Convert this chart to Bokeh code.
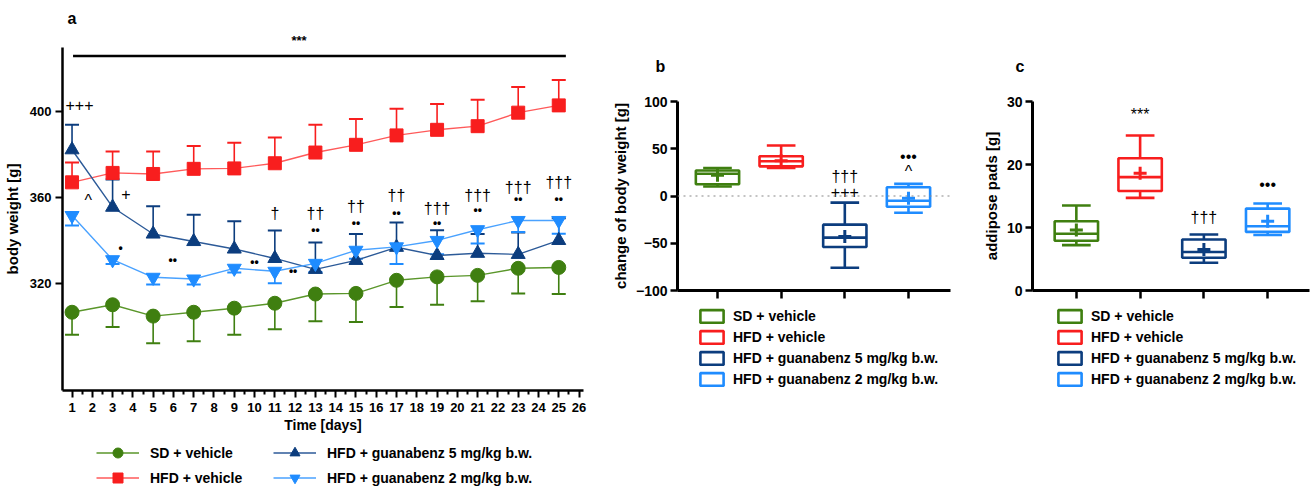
from bokeh.plotting import figure
from bokeh.models import (ColumnDataSource, Legend, LegendItem, Range1d, FixedTicker,
                          Whisker, TeeHead, Span, Title)
from bokeh.layouts import column
from bokeh.embed import file_html
from bokeh.resources import INLINE
from bokeh.core.properties import value

FONT = "Liberation Sans"

# ---------------- panel a data ----------------
days = [1, 3, 5, 7, 9, 11, 13, 15, 17, 19, 21, 23, 25]
sd_mean = [306.5, 310, 304.7, 306.5, 308.4, 310.7, 315, 315.3, 321.4, 323, 323.7, 327, 327.4]
sd_err = [10.5, 10.4, 12.7, 13.5, 12.4, 12.1, 12.7, 13.3, 12.4, 13, 12.1, 11.7, 12.4]
hfd_mean = [367.1, 371.5, 371, 373.4, 373.6, 376, 381, 384.6, 389, 391.6, 393.3, 399.6, 403]
hfd_err = [9.3, 10, 10.5, 10.6, 12, 12, 13, 12, 12.4, 12, 12.3, 12, 11.8]
g5_mean = [382.3, 355.5, 343, 339.5, 336, 331.6, 326.5, 330.7, 336.8, 333, 334, 333.5, 340]
g5_err = [11.7, 12.9, 13, 12.5, 13, 13, 12.5, 12.3, 11.6, 11.7, 9, 10.2, 10.4]
g2_mean = [351.6, 331, 322.8, 322, 327, 325.6, 329.3, 335.4, 337, 340, 345, 349.3, 349.3]
g2_err = [4.6, 2, 3.3, 2.5, 2, 5.6, 4, 4, 8, 6.5, 6.4, 5.4, 6.2]

ann_a_sym_x = [1.37, 1.8, 3.66, 11, 13, 15, 17, 19, 21, 23, 25]
ann_a_sym_y = [403.1, 358.6, 361.8, 352.6, 352.6, 356, 361, 355, 361, 364.7, 367]
ann_a_sym_t = ["+++", "^", "+", "\u2020", "\u2020\u2020", "\u2020\u2020", "\u2020\u2020",
               "\u2020\u2020\u2020", "\u2020\u2020\u2020", "\u2020\u2020\u2020", "\u2020\u2020\u2020"]
ann_a_dot_x = [3.4, 5.97, 10.0, 11.9, 13, 15, 17, 19, 21, 23, 25]
ann_a_dot_y = [336.3, 331, 330, 325.6, 345, 348, 353, 348, 354, 359.5, 359.5]
ann_a_dot_t = ["\u2022"] + ["\u2022\u2022"] * 10
sig_bar_x = [1.05, 25.35]
sig_bar_y = 426

x_ticks_a = list(range(1, 27))
y_ticks_a = [320, 360, 400]

groups = ["SD + vehicle", "HFD + vehicle",
          "HFD + guanabenz 5 mg/kg b.w.", "HFD + guanabenz 2 mg/kg b.w."]
cat_x = [1, 2, 3, 4]

# ---------------- panel b data (change of body weight) ----------------
b_min = [10, 29.6, -76, -17.8]
b_q1 = [12.5, 31.4, -54, -11.4]
b_med = [23.5, 36.7, -44, -5]
b_q3 = [27, 42, -30.3, 9.3]
b_max = [29.6, 53.5, -7, 12.8]
b_mean = [22, 37.4, -42.8, -2.5]
b_ticks = [-100, -50, 0, 50, 100]
ann_b_x = [3, 3, 4, 4]
ann_b_y = [20.4, 4.5, 42, 25.7]
ann_b_t = ["\u2020\u2020\u2020", "+++", "\u2022\u2022\u2022", "^"]

# ---------------- panel c data (adipose pads) ----------------
c_min = [7.2, 14.7, 4.4, 8.8]
c_q1 = [7.9, 15.8, 5.2, 9.3]
c_med = [9, 18, 6.1, 10.2]
c_q3 = [11, 21, 8.1, 13]
c_max = [13.5, 24.6, 8.9, 13.8]
c_mean = [9.6, 18.6, 6.5, 11]
c_ticks = [0, 10, 20, 30]
ann_c_x = [2, 3, 4]
ann_c_y = [27.9, 11.6, 16.8]
ann_c_t = ["***", "\u2020\u2020\u2020", "\u2022\u2022\u2022"]

# ---------------- styles ----------------
mark_col = ["#3f7f10", "#f81e1e", "#0c3d7e", "#1f8cff"]
line_col = ["#5a962a", "#ff5a5a", "#2c5a98", "#4aa2ff"]
markers = ["circle", "square", "triangle", "inverted_triangle"]
OFF = -10  # a point outside the legend strips' ranges, so their sample glyphs stay hidden


def style_axes(p, lw, tick_size):
    p.grid.visible = False
    p.outline_line_color = None
    p.background_fill_color = "white"
    for ax in (p.xaxis, p.yaxis):
        ax.axis_line_width = lw
        ax.axis_line_color = "black"
        ax.major_tick_line_width = 2
        ax.major_tick_line_color = "black"
        ax.minor_tick_line_width = 2
        ax.minor_tick_line_color = "black"
        ax.major_tick_in = 0
        ax.minor_tick_in = 0
        ax.major_label_text_font = FONT
        ax.major_label_text_font_style = "bold"
        ax.major_label_text_font_size = tick_size
        ax.major_label_text_color = "black"
        ax.axis_label_text_font = FONT
        ax.axis_label_text_font_style = "bold"
        ax.axis_label_text_font_size = "15px"
        ax.axis_label_text_color = "black"


def make_title(text, size, offset, standoff, valign="bottom"):
    return Title(text=text, align="left", offset=offset, standoff=standoff, vertical_align=valign,
                 text_font=FONT, text_font_size=size, text_font_style="bold", text_color="black")


def make_legend(items, loc, gw, gh, standoff, spacing, ncols=1, label_width=20):
    return Legend(items=items, location=loc, orientation="horizontal", ncols=ncols,
                  glyph_width=gw, glyph_height=gh, label_height=gh, label_width=label_width,
                  label_standoff=standoff, spacing=spacing, padding=0, margin=0,
                  border_line_color=None, background_fill_alpha=0,
                  label_text_font=FONT, label_text_font_style="bold", label_text_font_size="14px",
                  label_text_color="black")


def legend_fig(width, height, left_b, right_b):
    f = figure(width=width, height=height, x_range=Range1d(0, 1), y_range=Range1d(0, 1),
               x_axis_type=None, y_axis_type=None, title=None, output_backend="svg",
               toolbar_location=None, min_border_left=left_b, min_border_right=right_b,
               min_border_top=0, min_border_bottom=0)
    f.outline_line_color = None
    return f


# ================= panel a =================
pa = figure(width=600, height=440, x_range=Range1d(0.53, 26.22), y_range=Range1d(270, 430),
            title=None, output_backend="svg", toolbar_location=None,
            min_border_left=61, min_border_right=17, min_border_top=47, min_border_bottom=50)
style_axes(pa, 2.5, "13px")
pa.xaxis.ticker = FixedTicker(ticks=x_ticks_a, minor_ticks=[t + 0.5 for t in range(0, 26)])
pa.yaxis.ticker = FixedTicker(ticks=y_ticks_a, minor_ticks=[])
pa.xaxis.major_tick_out = 7
pa.xaxis.minor_tick_out = 4
pa.yaxis.major_tick_out = 7
pa.xaxis.major_label_standoff = 5
pa.yaxis.major_label_standoff = 4
pa.xaxis.axis_label = "Time [days]"
pa.yaxis.axis_label = "body weight [g]"
pa.xaxis.axis_label_standoff = 2
pa.yaxis.axis_label_standoff = 6
pa.xaxis.axis_label_text_font_size = "14px"

series = [(sd_mean, sd_err, 14, "lower"),
          (hfd_mean, hfd_err, 13, "upper"),
          (g5_mean, g5_err, 14, "upper"),
          (g2_mean, g2_err, 14, "lower")]
for i, (m, e, sz, side) in enumerate(series):
    if side == "upper":
        lo = m
        hi = [a + b for a, b in zip(m, e)]
    else:
        lo = [a - b for a, b in zip(m, e)]
        hi = m
    src = ColumnDataSource(dict(base=days, lower=lo, upper=hi))
    head = TeeHead(size=14, line_color=mark_col[i], line_width=2)
    w = Whisker(source=src, base="base", lower="lower", upper="upper", dimension="height",
                line_color=mark_col[i], line_width=1.6,
                upper_head=head if side == "upper" else None,
                lower_head=head if side == "lower" else None)
    pa.add_layout(w)
    pa.line(days, m, line_color=line_col[i], line_width=1.4)
    pa.scatter(days, m, marker=markers[i], size=sz, fill_color=mark_col[i], line_color=mark_col[i])

pa.segment(x0=[sig_bar_x[0]], y0=[sig_bar_y], x1=[sig_bar_x[1]], y1=[sig_bar_y],
           line_color="black", line_width=2.5)
pa.text(x=ann_a_sym_x, y=ann_a_sym_y, text=ann_a_sym_t, text_font=value(FONT),
        text_font_size="16px", text_align="center", text_baseline="middle", text_color="black")
pa.text(x=ann_a_dot_x, y=ann_a_dot_y, text=ann_a_dot_t, text_font=value(FONT), text_font_style="bold",
        text_font_size="12px", text_align="center", text_baseline="middle", text_color="black")
pa.add_layout(make_title("***", "13px", 229, 0), "above")
pa.add_layout(make_title("a", "16px", 5, 7), "above")

# legend of panel a, in its own strip below the plot
la = legend_fig(600, 51, 61, 17)
a_items = []
for i in range(4):
    lr = la.line(x=[OFF, OFF + 1], y=[OFF, OFF], line_color=line_col[i], line_width=1.4)
    sr = la.scatter(x=[OFF], y=[OFF], marker=markers[i], size=12, fill_color=mark_col[i],
                    line_color=mark_col[i])
    a_items.append(LegendItem(label=groups[i], renderers=[lr, sr]))
# row-major 2x2 grid: first column SD / HFD, second column the guanabenz groups
la.add_layout(make_legend([a_items[0], a_items[2], a_items[1], a_items[3]], (34, 1), 43, 25, 11, 0,
                          ncols=2, label_width=123))


# ================= panels b, c =================
def box_panel(width, left_b, right_b, xr, yr, yticks, ylabel, stats, ann, letter, letter_off,
              letter_standoff, leg_x):
    mn, q1, md, q3, mx, mean = stats
    p = figure(width=width, height=304, x_range=Range1d(*xr), y_range=Range1d(*yr),
               title=None, output_backend="svg", toolbar_location=None,
               min_border_left=left_b, min_border_right=right_b, min_border_top=101,
               min_border_bottom=14)
    style_axes(p, 3, "14px")
    p.xaxis.ticker = FixedTicker(ticks=cat_x, minor_ticks=[])
    p.xaxis.major_label_text_color = None
    p.xaxis.major_label_text_font_size = "1px"
    p.xaxis.major_label_standoff = 0
    p.xaxis.major_tick_out = 8
    p.xaxis.major_tick_line_width = 2.5
    p.yaxis.ticker = FixedTicker(ticks=yticks, minor_ticks=[])
    p.yaxis.major_tick_out = 7
    p.yaxis.major_tick_line_width = 2.5
    p.yaxis.major_label_standoff = 3
    p.yaxis.axis_label = ylabel
    p.yaxis.axis_label_standoff = 4
    bw, cw, lw = 0.68, 0.45, 2.6
    for i in range(4):
        x = cat_x[i]
        c = mark_col[i]
        p.segment(x0=[x, x], y0=[q3[i], q1[i]], x1=[x, x], y1=[mx[i], mn[i]], line_color=c, line_width=lw)
        p.segment(x0=[x - cw / 2, x - cw / 2], y0=[mx[i], mn[i]], x1=[x + cw / 2, x + cw / 2],
                  y1=[mx[i], mn[i]], line_color=c, line_width=lw)
        p.quad(left=[x - bw / 2], right=[x + bw / 2], bottom=[q1[i]], top=[q3[i]],
               fill_color="white", line_color=c, line_width=lw)
        p.segment(x0=[x - bw / 2], y0=[md[i]], x1=[x + bw / 2], y1=[md[i]], line_color=c, line_width=lw)
        p.scatter([x], [mean[i]], marker="cross", size=13, line_color=c, line_width=3)
    ax, ay, at = ann
    p.text(x=ax, y=ay, text=at, text_font=value(FONT), text_font_size="16px",
           text_align="center", text_baseline="middle", text_color="black")
    p.add_layout(make_title(letter, "16px", letter_off, letter_standoff), "above")

    lf = legend_fig(width, 187, left_b, right_b)
    items = []
    for i in range(4):
        r = lf.quad(left=[OFF], right=[OFF + 1], bottom=[OFF], top=[OFF + 1], fill_color="white",
                    line_color=mark_col[i], line_width=2.6)
        items.append(LegendItem(label=groups[i], renderers=[r]))
    lf.add_layout(make_legend(items, (leg_x, 104), 29, 16, 7, 5, ncols=1))
    return p, lf


pb, lb = box_panel(375, 77, 25, (0.372, 4.66), (-100, 100), b_ticks,
                   "change of body weight [g]", (b_min, b_q1, b_med, b_q3, b_max, b_mean),
                   (ann_b_x, ann_b_y, ann_b_t), "b", -22, 53, 20)
pb.add_layout(Span(location=0, dimension="width", line_color="#888888", line_dash="dotted", line_width=1.2))

pc, lc = box_panel(341, 57, 7, (0.3125, 4.656), (0, 30), c_ticks,
                   "addipose pads [g]", (c_min, c_q1, c_med, c_q3, c_max, c_mean),
                   (ann_c_x, ann_c_y, ann_c_t), "c", -17, 53, 23)

TEMPLATE = """
{% block postamble %}
<style>
  body { display: flex; flex-direction: row; align-items: flex-start; }
</style>
{% endblock %}
"""

open("out.html", "w").write(file_html([column(pa, la), column(pb, lb), column(pc, lc)], INLINE,
                                      template=TEMPLATE))
